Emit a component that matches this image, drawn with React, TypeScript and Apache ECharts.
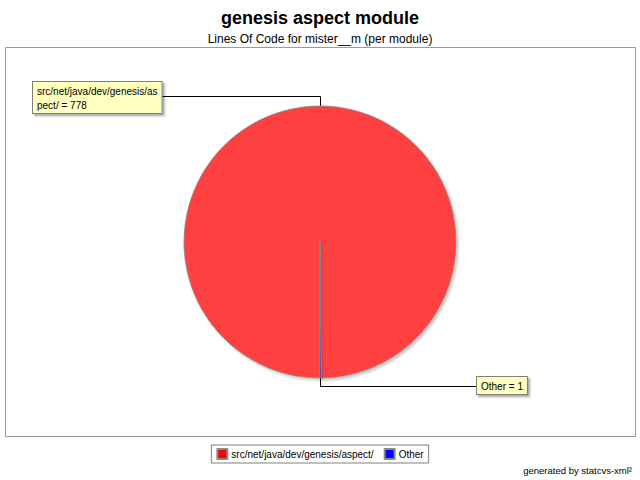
import React, { useEffect, useRef } from "react";
import * as echarts from "echarts";

const title = "genesis aspect module";
const subtitle = "Lines Of Code for mister__m (per module)";
const footer = "generated by statcvs-xml²";
const categories = ["src/net/java/dev/genesis/aspect/", "Other"];
const values = [778, 1];
const sliceColors = ["#FF4040", "#0000FF"];
const legendColors = ["#FF0000", "#0000FF"];

const FONT = "'Liberation Sans', Arial, sans-serif";

function wrap(s: string, n: number) {
  const out: string[] = [];
  for (let i = 0; i < s.length; i += n) out.push(s.slice(i, i + n));
  return out.join("\n");
}

export default function App() {
  const ref = useRef<HTMLDivElement>(null);
  useEffect(() => {
    if (!ref.current) return;
    document.body.style.margin = "0";
    const chart = echarts.init(ref.current, undefined, { renderer: "svg" });
    chart.setOption({
      animation: false,
      backgroundColor: "#ffffff",
      title: [
        {
          text: title,
          left: "center",
          top: 4,
          textStyle: { fontFamily: FONT, fontSize: 18, fontWeight: "bold", color: "#000" },
        },
        {
          text: subtitle,
          left: "center",
          top: 28,
          textStyle: { fontFamily: FONT, fontSize: 12, fontWeight: "normal", color: "#000" },
        },
        {
          text: footer,
          right: 8,
          top: 465,
          padding: 0,
          textStyle: { fontFamily: FONT, fontSize: 9.5, fontWeight: "normal", color: "#000" },
        },
      ],
      graphic: [
        {
          type: "rect",
          shape: { x: 5.5, y: 47.5, width: 630, height: 389 },
          style: { fill: "none", stroke: "#9a9a9a", lineWidth: 1 },
          z: -1,
        },
      ],
      legend: {
        top: 445,
        left: "center",
        orient: "horizontal",
        icon: "rect",
        itemWidth: 10,
        itemHeight: 10,
        itemGap: 10,
        padding: [3, 5, 3, 5],
        borderColor: "#808080",
        borderWidth: 1,
        textStyle: { fontFamily: FONT, fontSize: 10, color: "#000", padding: [0, 0, 0, -1] },
        data: categories.map((c, i) => ({ name: c, itemStyle: { color: legendColors[i] } })),
      },
      series: [
        {
          type: "pie",
          center: [320, 242],
          radius: 136,
          startAngle: -90,
          clockwise: true,
          avoidLabelOverlap: false,
          itemStyle: {
            borderColor: "#8a8a8a",
            borderWidth: 0.8,
            shadowColor: "rgba(0,0,0,0.25)",
            shadowBlur: 3,
            shadowOffsetX: 2,
            shadowOffsetY: 2,
          },
          label: {
            show: true,
            formatter: (p: any) => wrap(`${p.name} = ${p.value}`, 27),
            fontFamily: FONT,
            fontSize: 10,
            lineHeight: 14,
            color: "#000",
            backgroundColor: "#FFFFC0",
            borderColor: "#808080",
            borderWidth: 1,
            padding: [2, 4, 1, 4],
            shadowColor: "rgba(0,0,0,0.35)",
            shadowOffsetX: 2,
            shadowOffsetY: 2,
            shadowBlur: 2,
          },
          labelLine: { show: true, lineStyle: { color: "#000", width: 1 } },
          labelLayout: (params: any) => {
            if (params.dataIndex === 0) {
              return {
                x: 33,
                y: 82,
                align: "left",
                verticalAlign: "top",
                labelLinePoints: [
                  [320.5, 117],
                  [320.5, 96.5],
                  [162, 96.5],
                ],
              };
            }
            return {
              x: 477,
              y: 377,
              align: "left",
              verticalAlign: "top",
              labelLinePoints: [
                [320.5, 360],
                [320.5, 386.5],
                [477, 386.5],
              ],
            };
          },
          data: categories.map((c, i) => ({
            name: c,
            value: values[i],
            itemStyle: { color: sliceColors[i] },
          })),
        },
      ],
    });
    return () => chart.dispose();
  }, []);
  return <div ref={ref} style={{ width: 640, height: 480 }} />;
}
